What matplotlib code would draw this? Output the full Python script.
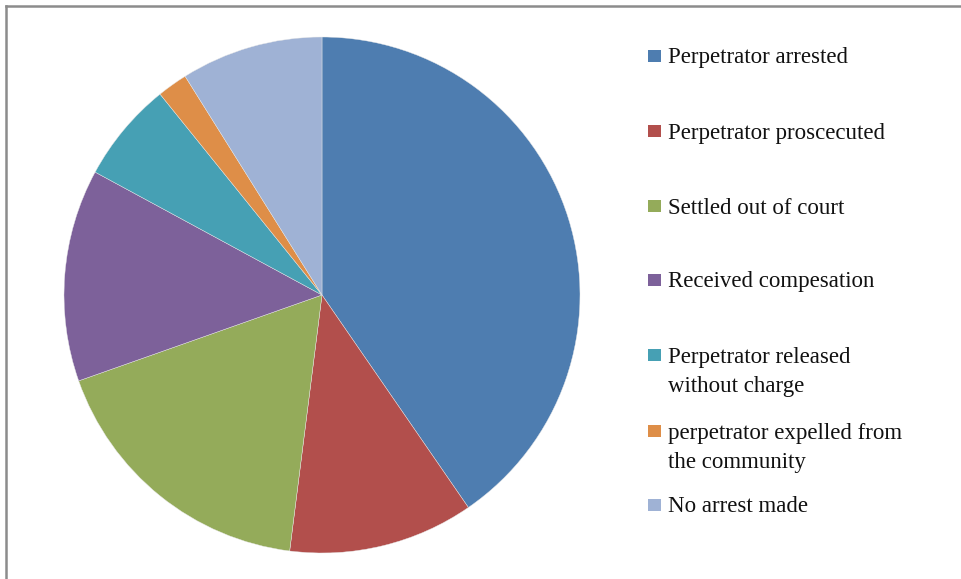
import matplotlib.pyplot as plt
from matplotlib.patches import Rectangle
from matplotlib.lines import Line2D

# outcome shares (%)
labels = ['Perpetrator arrested',
          'Perpetrator proscecuted',
          'Settled out of court',
          'Received compesation',
          'Perpetrator released\nwithout charge',
          'perpetrator expelled from\nthe community',
          'No arrest made']
shares = [40.4, 11.6, 17.6, 13.3, 6.3, 1.9, 8.9]
colors = ['#4e7db0', '#b24f4c', '#94ab5a', '#7d619a',
          '#46a0b4', '#de8e48', '#9fb2d5']

W, H = 961, 579
fig = plt.figure(figsize=(W / 100, H / 100), dpi=100)
fig.patch.set_facecolor('white')

# pie axes: centre (322, 295) px, radius 258 px
cx, cy, r = 322, 295, 258
ax = fig.add_axes([(cx - r) / W, (H - cy - r) / H, 2 * r / W, 2 * r / H])
wedges, _ = ax.pie(shares, colors=colors, startangle=90, counterclock=False,
                   radius=1, wedgeprops=dict(linewidth=0.3, edgecolor='#e8e8e8'))
ax.set_xlim(-1, 1)
ax.set_ylim(-1, 1)
ax.set_aspect('equal')
ax.axis('off')

# legend drawn by hand to mimic the Excel layout
entry_y = [56, 131, 206, 280, 355, 431, 505]
line_h = 29.5
for lab, col, y in zip(labels, colors, entry_y):
    fig.patches.append(Rectangle(((648) / W, (H - y - 6) / H), 13 / W, 12 / H,
                                 transform=fig.transFigure, facecolor=col,
                                 edgecolor='none'))
    for k, line in enumerate(lab.split('\n')):
        fig.text(668 / W, (H - y - 2 - k * line_h) / H, line,
                 family='Liberation Serif', fontsize=16.5, va='center',
                 ha='left', color='#111111')

# chart frame (only top and left edges visible)
frame_c = '#8c8c8c'
fig.lines.append(Line2D([6 / W, 1], [1 - 6 / H, 1 - 6 / H],
                        transform=fig.transFigure, color=frame_c, lw=1.8))
fig.lines.append(Line2D([6 / W, 6 / W], [0, 1 - 6 / H],
                        transform=fig.transFigure, color=frame_c, lw=1.8))

fig.savefig('out.png', dpi=100, facecolor='white')
